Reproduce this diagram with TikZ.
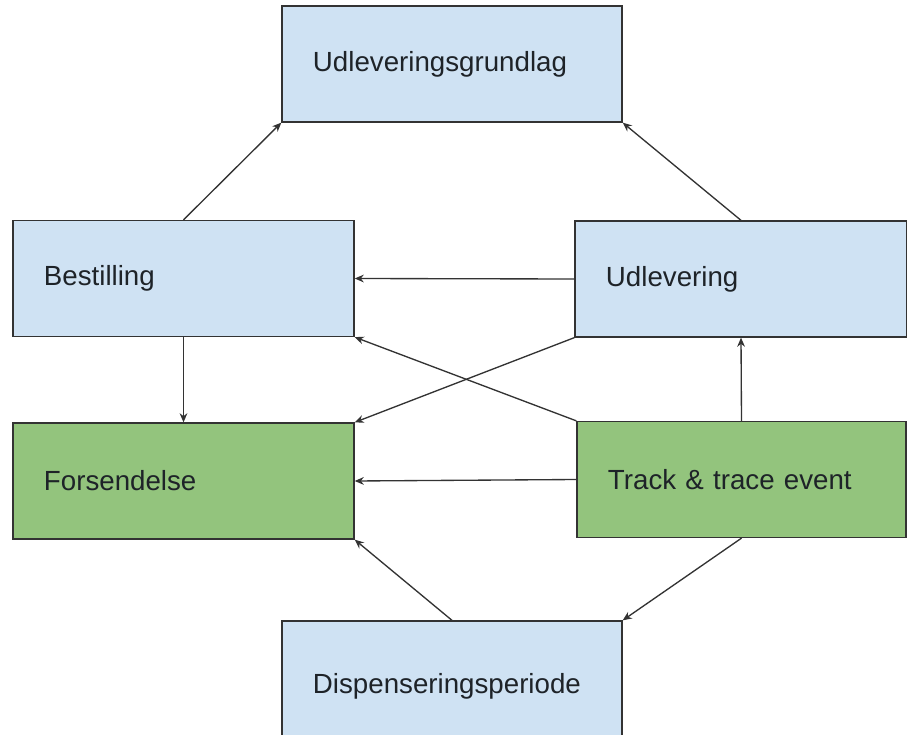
\documentclass[tikz,border=0pt]{standalone}
\usepackage{fontspec}
\setmainfont{Liberation Sans}
\usepackage{tikz}
\usetikzlibrary{arrows.meta}
\definecolor{boxblue}{HTML}{CFE2F3}
\definecolor{boxgreen}{HTML}{93C47D}
\definecolor{edgegray}{HTML}{333333}
\definecolor{textdark}{HTML}{1E2328}

\begin{document}
\begin{tikzpicture}[x=0.025cm,y=-0.025cm,
  entity/.style={draw=edgegray, line width=0.9pt, rectangle, inner xsep=0.775cm,
    minimum height=2.9cm, align=left, text=textdark,
    font=\fontsize{19.7pt}{24pt}\selectfont},
  blue/.style={entity, fill=boxblue},
  green/.style={entity, fill=boxgreen},
  link/.style={draw=edgegray, line width=0.95pt, -{Stealth[length=6.5pt,width=5.5pt]}}]
\useasboundingbox (0,0) rectangle (907,735);
%% entiteter;
\node [blue, text width=6.95cm] (grundlag) at (452,64) {Udleveringsgrundlag};
\node [blue, text width=6.975cm] (bestilling) at (183.5,278.5) {Bestilling};
\node [blue, text width=6.75cm] (udlevering) at (741,279) {Udlevering};
\node [green, text width=6.975cm] (forsendelse) at (183.5,481) {Forsendelse};
\node [green, text width=6.675cm] (track) at (741.5,479.5) {Track \& trace event};
\node [blue, text width=6.95cm, minimum height=3.25cm] (periode) at (452,686) {Dispenseringsperiode};
%% pile;
\draw [link] (bestilling.north) -- (grundlag.south west);
\draw [link] (udlevering.north) -- (grundlag.south east);
\draw [link] (udlevering.west) -- (bestilling.east);
\draw [link] (bestilling.south) -- (forsendelse.north);
\draw [link] (udlevering.south west) -- (forsendelse.north east);
\draw [link] (track.north west) -- (bestilling.south east);
\draw [link] (track.west) -- (forsendelse.east);
\draw [link] (track.north) -- (udlevering.south);
\draw [link] (periode.north) -- (forsendelse.south east);
\draw [link] (track.south) -- (periode.north east);

\end{tikzpicture}
\end{document}
